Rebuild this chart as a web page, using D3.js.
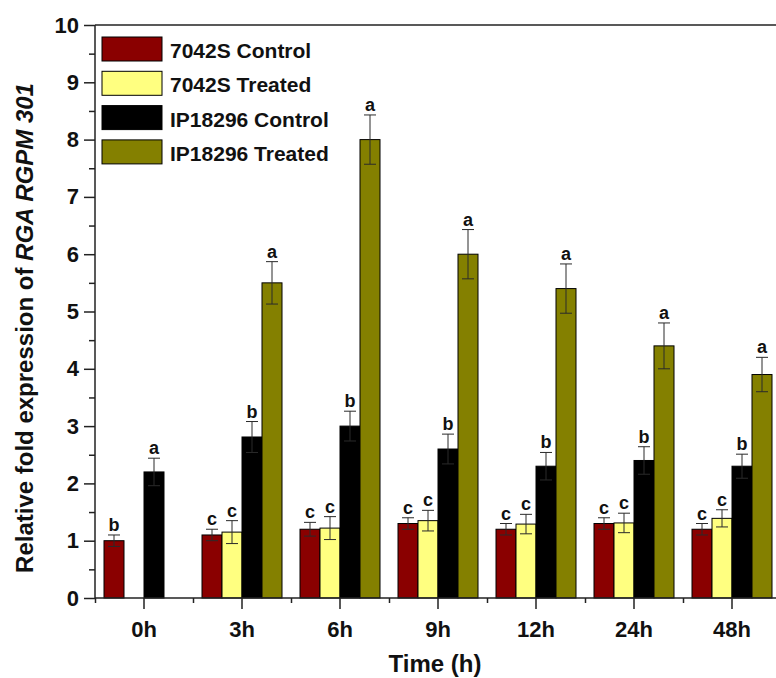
<!DOCTYPE html>
<html lang='en'>
<head>
  <meta charset='UTF-8'>
  <title>RGA RGPM 301</title>
  <script src="https://d3js.org/d3.v7.min.js"></script>
  <style>
    body { margin: 0; background: #fff; }
    svg { display: block; font-family: 'Liberation Sans', Arial, sans-serif; font-weight: bold; }
  </style>
</head>
<body>
  <div id="chart"></div>
  <script>
    // data
    const categories = ['0h', '3h', '6h', '9h', '12h', '24h', '48h'];
    const seriesNames = ['7042S Control', '7042S Treated', 'IP18296 Control', 'IP18296 Treated'];
    const seriesColors = ['#8a0000', '#ffff80', '#000000', '#848000'];

    const control7042 = [1.0, 1.1, 1.2, 1.3, 1.2, 1.3, 1.2];
    const control7042Err = [0.1, 0.1, 0.12, 0.1, 0.1, 0.1, 0.1];
    const control7042Tag = ['b', 'c', 'c', 'c', 'c', 'c', 'c'];

    const treated7042 = [null, 1.15, 1.22, 1.35, 1.29, 1.31, 1.39];
    const treated7042Err = [null, 0.2, 0.2, 0.18, 0.17, 0.17, 0.15];
    const treated7042Tag = [null, 'c', 'c', 'c', 'c', 'c', 'c'];

    const controlIP = [2.2, 2.81, 3.0, 2.6, 2.3, 2.4, 2.3];
    const controlIPErr = [0.24, 0.27, 0.26, 0.26, 0.24, 0.24, 0.21];
    const controlIPTag = ['a', 'b', 'b', 'b', 'b', 'b', 'b'];

    const treatedIP = [null, 5.5, 8.0, 6.0, 5.4, 4.4, 3.9];
    const treatedIPErr = [null, 0.37, 0.43, 0.43, 0.43, 0.4, 0.3];
    const treatedIPTag = [null, 'a', 'a', 'a', 'a', 'a', 'a'];

    const yTicks = [0, 1, 2, 3, 4, 5, 6, 7, 8, 9, 10];
    const yMinorTicks = [0.5, 1.5, 2.5, 3.5, 4.5, 5.5, 6.5, 7.5, 8.5, 9.5];

    const values = [control7042, treated7042, controlIP, treatedIP];
    const errors = [control7042Err, treated7042Err, controlIPErr, treatedIPErr];
    const tags = [control7042Tag, treated7042Tag, controlIPTag, treatedIPTag];

    const W = 776, H = 678;
    const plotLeft = 95, plotTop = 25, plotBottom = 598;
    const bandW = 98;

    const svg = d3.select('#chart').append('svg')
      .attr('width', W)
      .attr('height', H);

    const x0 = d3.scaleBand()
      .domain(categories)
      .range([plotLeft, plotLeft + bandW * categories.length]);

    const x1 = d3.scaleBand()
      .domain(seriesNames)
      .range([9, 89]);

    const xEdge = d3.scaleLinear()
      .domain([0, categories.length])
      .range([plotLeft, plotLeft + bandW * categories.length]);

    const y = d3.scaleLinear()
      .domain([0, 10])
      .range([plotBottom, plotTop]);

    // rows for drawing
    const rows = [];
    categories.forEach((c, i) => {
      seriesNames.forEach((s, j) => {
        if (values[j][i] == null) return;
        rows.push({ cat: c, series: s, idx: j, value: values[j][i], err: errors[j][i], tag: tags[j][i] });
      });
    });

    // bars
    svg.append('g')
      .selectAll('rect')
      .data(rows)
      .join('rect')
      .attr('x', (d) => x0(d.cat) + x1(d.series))
      .attr('y', (d) => y(d.value))
      .attr('width', x1.bandwidth())
      .attr('height', (d) => y(0) - y(d.value))
      .attr('fill', (d) => seriesColors[d.idx])
      .attr('stroke', '#000')
      .attr('stroke-width', 1);

    // error bars
    const eb = svg.append('g')
      .attr('stroke', '#2a2a2a')
      .attr('stroke-width', 1);
    rows.forEach((d) => {
      const cx = x0(d.cat) + x1(d.series) + x1.bandwidth() / 2;
      eb.append('line')
        .attr('x1', cx).attr('x2', cx)
        .attr('y1', y(d.value - d.err)).attr('y2', y(d.value + d.err));
      [d.value + d.err, d.value - d.err].forEach((v) => {
        eb.append('line')
          .attr('x1', cx - 6).attr('x2', cx + 6)
          .attr('y1', y(v)).attr('y2', y(v));
      });
    });

    // significance letters
    svg.append('g')
      .selectAll('text')
      .data(rows)
      .join('text')
      .attr('x', (d) => x0(d.cat) + x1(d.series) + x1.bandwidth() / 2)
      .attr('y', (d) => y(d.value + d.err) - 4)
      .attr('text-anchor', 'middle')
      .attr('font-size', 18)
      .attr('fill', '#111')
      .text((d) => d.tag);

    // axes
    const yAxis = svg.append('g')
      .attr('transform', `translate(${plotLeft}, 0)`)
      .call(d3.axisLeft(y).tickValues(yTicks).tickSize(11).tickPadding(5).tickFormat(d3.format('d')));
    svg.append('g')
      .attr('transform', `translate(${plotLeft}, 0)`)
      .call(d3.axisLeft(y).tickValues(yMinorTicks).tickSize(6).tickFormat(''))
      .select('.domain').remove();

    const xAxis = svg.append('g')
      .attr('transform', `translate(0, ${plotBottom})`)
      .call(d3.axisBottom(x0).tickSize(11).tickPadding(12));
    svg.append('g')
      .attr('transform', `translate(0, ${plotBottom})`)
      .call(d3.axisBottom(xEdge).tickValues(d3.range(categories.length + 1)).tickSize(5).tickFormat(''))
      .select('.domain').remove();

    svg.selectAll('.domain, .tick line')
      .attr('stroke', '#222')
      .attr('stroke-width', 1.5);
    yAxis.selectAll('.domain').attr('d', `M0,${plotBottom}V${plotTop}`);
    xAxis.selectAll('.domain').attr('d', `M${plotLeft},0H${W}`);

    svg.selectAll('.tick text')
      .attr('font-size', 22)
      .attr('font-family', "'Liberation Sans', Arial, sans-serif")
      .attr('font-weight', 'bold')
      .attr('fill', '#111');

    // top frame
    svg.append('line')
      .attr('x1', xEdge(0)).attr('x2', W)
      .attr('y1', y(10)).attr('y2', y(10))
      .attr('stroke', '#222')
      .attr('stroke-width', 1.5);

    // axis titles
    svg.append('text')
      .attr('x', 435)
      .attr('y', 672)
      .attr('text-anchor', 'middle')
      .attr('font-size', 24)
      .attr('fill', '#111')
      .text('Time (h)');

    const yTitle = svg.append('text')
      .attr('transform', 'translate(33, 328) rotate(-90)')
      .attr('text-anchor', 'middle')
      .attr('font-size', 24)
      .attr('fill', '#111');
    yTitle.append('tspan').text('Relative fold expression of ');
    yTitle.append('tspan').attr('font-style', 'italic').text('RGA RGPM 301');

    // legend
    const legend = svg.append('g')
      .selectAll('g')
      .data(seriesNames)
      .join('g')
      .attr('transform', (d, i) => `translate(102, ${37 + i * 34.3})`);
    legend.append('rect')
      .attr('width', 60)
      .attr('height', 24)
      .attr('fill', (d, i) => seriesColors[i])
      .attr('stroke', '#000')
      .attr('stroke-width', 1);
    legend.append('text')
      .attr('x', 68)
      .attr('y', 21)
      .attr('font-size', 21)
      .attr('fill', '#111')
      .text((d) => d);
  </script>
</body>
</html>
